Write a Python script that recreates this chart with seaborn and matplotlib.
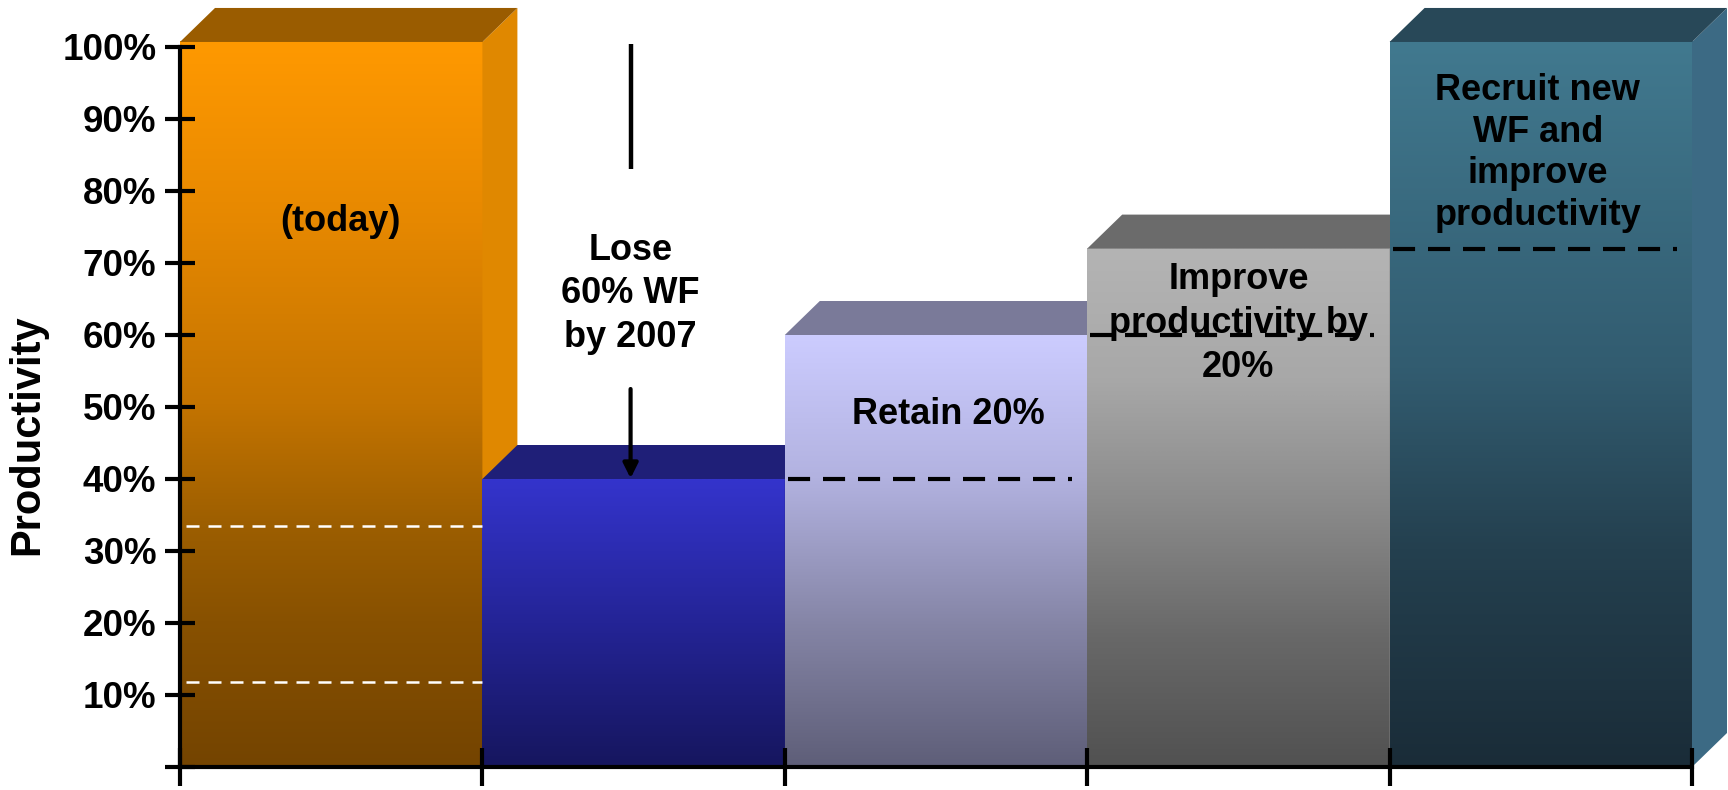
import numpy as np
import matplotlib
matplotlib.use("Agg")
import matplotlib.pyplot as plt
from matplotlib.colors import LinearSegmentedColormap
from matplotlib.patches import Polygon
import seaborn as sns

# ---------------- data ----------------
categories = ["Today", "Lose 60% WF", "Retain 20%", "Improve productivity", "Recruit new WF"]
productivity = [100.7, 40, 60, 72, 100.7]
bar_texts = ["(today)", "", "Retain 20%", "Improve\nproductivity by\n20%",
             "Recruit new\nWF and\nimprove\nproductivity"]
bar_text_y = [75.8, None, 49.0, 61.6, 85.3]
bar_text_dx = [0.03, 0.0, 0.04, 0.0, -0.01]
bar_text_spacing = [1.2, 1.2, 1.2, 1.35, 1.24]
prior_level = [None, None, 40, 60, 72]        # black dashed reference levels
today_split = [33.5, 11.8]                    # white dashed lines in first bar
loss_text = "Lose\n60% WF\nby 2007"
loss_text_y = 65.7
ytick_vals = list(range(0, 101, 10))
ytick_labels = [""] + [f"{v}%" for v in range(10, 101, 10)]

# ---------------- style ----------------
front_stops = [
    [(0.0, "#744400"), (0.2, "#885100"), (0.33, "#9C5E00"), (0.5, "#C47400"), (0.75, "#E68800"), (1.0, "#FF9900")],
    [(0.0, "#16165E"), (0.5, "#242496"), (1.0, "#3434CC")],
    [(0.0, "#5E5E78"), (0.33, "#8585A6"), (0.67, "#B2B2E0"), (1.0, "#CCCCFF")],
    [(0.0, "#515151"), (0.25, "#686868"), (0.5, "#8A8A8A"), (0.75, "#A8A8A8"), (1.0, "#B4B4B4")],
    [(0.0, "#1A2C38"), (0.3, "#24404F"), (0.55, "#325C70"), (1.0, "#41798F")],
]
top_colors = ["#9A5C00", "#1F1F78", "#7A7A99", "#6B6B6B", "#284858"]
side_colors = ["#E08800", "#26267F", "#9A9AC0", "#8A8A8A", "#3C6A84"]

sns.set_style("white")
plt.rcParams["font.family"] = ["Liberation Sans", "DejaVu Sans"]
plt.rcParams["font.weight"] = "bold"

W, H = 1728, 790
fig = plt.figure(figsize=(W / 100, H / 100), dpi=100, facecolor="white")
ax = fig.add_axes([180 / W, 23 / H, 1512 / W, 720 / H])

sns.barplot(x=categories, y=productivity, hue=categories,
            palette=[s[-1][1] for s in front_stops], width=1.0,
            saturation=1.0, legend=False, ax=ax, zorder=1)

dx = 35 / 302.4   # depth offset (data units, x)
dy = 34 / 7.2     # depth offset (data units, y)

patches = sorted(ax.patches, key=lambda p: p.get_x())
for i, p in enumerate(patches):
    x0, w, h = p.get_x(), p.get_width(), p.get_height()
    x1 = x0 + w
    p.set_facecolor("none")
    p.set_edgecolor("none")
    base = 1.0 + i * 0.2
    cmap = LinearSegmentedColormap.from_list(f"g{i}", front_stops[i])
    img = cmap(np.linspace(0, 1, 256))[:, None, :]
    ax.imshow(img, extent=[x0, x1, 0, h], origin="lower", aspect="auto",
              interpolation="bilinear", zorder=base, clip_on=False)
    side = Polygon([(x1, 0), (x1 + dx, dy), (x1 + dx, h + dy), (x1, h)],
                   closed=True, facecolor=side_colors[i], edgecolor="none",
                   clip_on=False, zorder=base + 0.05)
    top = Polygon([(x0, h), (x1, h), (x1 + dx, h + dy), (x0 + dx, h + dy)],
                  closed=True, facecolor=top_colors[i], edgecolor="none",
                  clip_on=False, zorder=base + 0.06)
    ax.add_patch(side)
    ax.add_patch(top)

    cx = x0 + w / 2
    if bar_texts[i]:
        ax.text(cx + bar_text_dx[i], bar_text_y[i], bar_texts[i], ha="center", va="center",
                fontsize=26, fontweight="bold", color="black",
                linespacing=bar_text_spacing[i], zorder=5, clip_on=False)
    if prior_level[i] is not None:
        ax.plot([x0 + 0.01, x1 - 0.05], [prior_level[i]] * 2, color="black", lw=3.0,
                linestyle=(0, (5.3, 3.1)), solid_capstyle="butt", dash_capstyle="butt",
                zorder=5.5)
    if i == 0:
        for yv in today_split:
            ax.plot([x0 + 0.02, x1], [yv, yv], color="white", lw=1.8,
                    linestyle=(0, (5.2, 3.6)), dash_capstyle="butt", zorder=5.5)
    if i == 1:
        ax.plot([cx - 0.01, cx - 0.01], [100.4, 83.1], color="black", lw=3.2,
                solid_capstyle="butt", zorder=5, clip_on=False)
        ax.annotate("", xy=(cx - 0.01, h + 0.1), xytext=(cx - 0.01, 52.5),
                    arrowprops=dict(arrowstyle="-|>", lw=3.0, color="black",
                                    mutation_scale=22, shrinkA=0, shrinkB=0),
                    zorder=5)
        ax.text(cx - 0.01, loss_text_y, loss_text, ha="center", va="center",
                fontsize=26, fontweight="bold", color="black", linespacing=1.31, zorder=5)

ax.set_xlim(-0.5, len(categories) - 0.5)
ax.set_ylim(0, 100)
ax.set_xticks(np.arange(-0.5, len(categories), 1.0))
ax.set_xticklabels([""] * (len(categories) + 1))
ax.set_yticks(ytick_vals)
ax.set_yticklabels(ytick_labels, fontsize=26.5, fontweight="bold")
ax.set_xlabel("")
ax.set_ylabel("")
ax.set_axisbelow(False)
for s in ["top", "right"]:
    ax.spines[s].set_visible(False)
for s in ["left", "bottom"]:
    ax.spines[s].set_linewidth(3.0)
    ax.spines[s].set_color("black")
    ax.spines[s].set_zorder(6)
ax.tick_params(axis="y", which="major", left=True, direction="inout", length=21,
               width=3.0, pad=6.5, colors="black")
ax.tick_params(axis="x", which="major", bottom=True, direction="inout", length=28,
               width=3.0, colors="black")
ax.xaxis.set_zorder(7)
ax.yaxis.set_zorder(7)
ax.patch.set_alpha(0)

fig.text(27 / W, 1 - 435 / H, "Productivity", rotation=90, ha="center", va="center",
         fontsize=30, fontweight="bold", color="black")

fig.savefig("out.png", dpi=100, facecolor="white")
